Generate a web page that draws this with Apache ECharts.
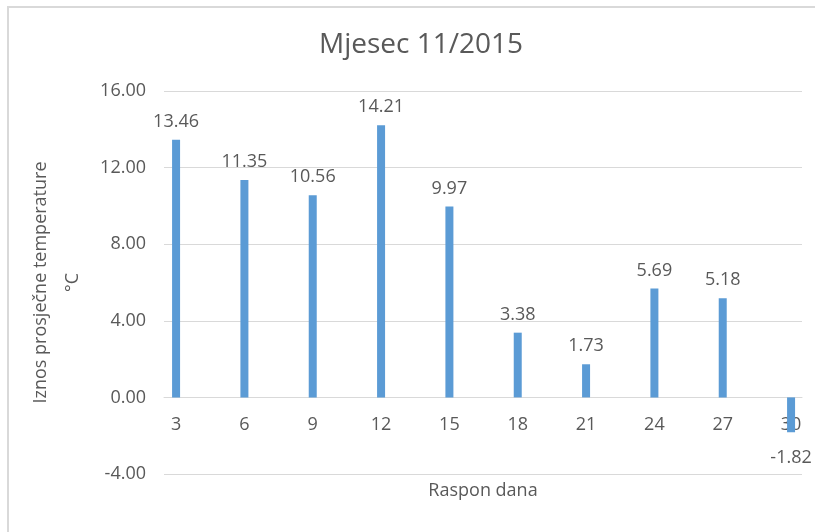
<!DOCTYPE html>
<html>
<head>
<meta charset="utf-8">
<script src="https://cdn.jsdelivr.net/npm/echarts@6/dist/echarts.min.js"></script>
<style>html,body{margin:0;padding:0;background:#fff}#c{width:815px;height:532px}</style>
</head>
<body>
<div id="c"></div>
<script>
const chartTitle = 'Mjesec 11/2015';
const xName = 'Raspon dana';
const yName = 'Iznos prosječne temperature\n°C';
const categories = [3, 6, 9, 12, 15, 18, 21, 24, 27, 30];
const values = [13.46, 11.35, 10.56, 14.21, 9.97, 3.38, 1.73, 5.69, 5.18, -1.82];
const yTicks = [-4, 0, 4, 8, 12, 16];

const txt = '#595959';
const font = '"Open Sans", "Noto Sans", sans-serif';
const yMin = yTicks[0], yMax = yTicks[yTicks.length - 1];
const gridTop = 91, gridBottom = 58, H = 532;
const plotH = H - gridTop - gridBottom;
const zeroShift = -plotH * (0 - yMin) / (yMax - yMin);

const data = categories.map((c, i) => values[i] < 0
  ? { value: [c, values[i]], label: { position: 'bottom', distance: 17 } }
  : { value: [c, values[i]] });

const chart = echarts.init(document.getElementById('c'), null, { renderer: 'canvas' });
chart.setOption({
  backgroundColor: '#fff',
  animation: false,
  textStyle: { fontFamily: font },
  graphic: [{
    type: 'rect', shape: { x: 8, y: 7, width: 900, height: 600 },
    style: { fill: 'none', stroke: '#d9d9d9', lineWidth: 2 }, silent: true, z: -1
  }],
  title: {
    text: chartTitle, left: 416, top: 26, textAlign: 'center',
    textStyle: { color: txt, fontSize: 28, fontWeight: 'normal', fontFamily: font }
  },
  grid: { left: 164, right: 13, top: gridTop, bottom: gridBottom, containLabel: false, outerBoundsMode: 'none' },
  xAxis: {
    type: 'value', min: 2.47, max: 30.48,
    position: 'bottom', offset: zeroShift,
    name: xName, nameLocation: 'middle', nameGap: 84,
    nameTextStyle: { color: txt, fontSize: 18, fontFamily: font },
    axisLine: { show: true, onZero: false, lineStyle: { color: '#d9d9d9', width: 1 } },
    axisTick: { show: false },
    splitLine: { show: false },
    axisLabel: { customValues: categories, color: txt, fontSize: 18, margin: 18, fontFamily: font }
  },
  yAxis: {
    type: 'value', min: yMin, max: yMax, interval: 4,
    name: yName, nameLocation: 'middle', nameGap: 70, nameRotate: 90,
    nameTextStyle: { color: txt, fontSize: 18, lineHeight: 32, fontFamily: font, align: 'center' },
    axisLine: { show: false, onZero: false }, axisTick: { show: false },
    splitLine: { lineStyle: { color: '#d9d9d9', width: 1 } },
    axisLabel: { color: txt, fontSize: 18, margin: 18, fontFamily: font, formatter: v => v.toFixed(2) }
  },
  series: [{
    type: 'bar', data: data, barWidth: 8,
    itemStyle: { color: '#5b9bd5' },
    label: {
      show: true, position: 'top', distance: 9, color: txt, fontSize: 18, fontFamily: font,
      formatter: p => p.value[1].toFixed(2)
    }
  }]
});
</script>
</body>
</html>
